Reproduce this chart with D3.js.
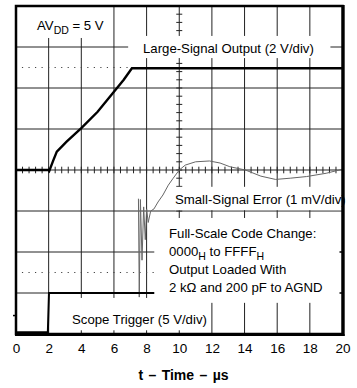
<!DOCTYPE html>
<meta charset="utf-8">
<style>
  body { margin: 0; background: #fff; }
  text { font-family: "Liberation Sans", Arial, sans-serif; fill: #000; }
</style>
<svg width="357" height="388"></svg>
<script src="https://d3js.org/d3.v7.min.js"></script>
<script>
// time axis labels (µs)
var timeTicks = [0, 2, 4, 6, 8, 10, 12, 14, 16, 18, 20];
// traces, [time µs, screen divisions from centre]
var largeSignal = [[0, 0], [2.0, 0], [2.04, -0.02], [2.29, 0.24], [2.5, 0.45], [3.1, 0.69],
  [4.0, 1.02], [5.0, 1.42], [6.0, 1.91], [6.6, 2.2], [7.1, 2.48], [20, 2.48]];
var smallError = [[7.5, -0.7], [7.55, -3.1], [7.62, -0.72], [7.72, -2.2], [7.82, -0.9],
  [7.92, -1.7], [8.0, -0.95], [8.1, -1.28], [8.25, -1.0], [8.45, -0.95], [8.7, -0.78],
  [9.0, -0.61], [9.33, -0.37], [9.63, -0.2], [10.0, 0], [10.37, 0.12], [11.0, 0.2],
  [11.85, 0.22], [12.5, 0.17], [13.1, 0.08], [14.05, 0.0], [15.0, -0.15], [15.9, -0.23],
  [16.8, -0.2], [17.8, -0.16], [19.0, -0.08], [20, 0.02]];
var scopeTrigger = [[0, -3.96], [1.95, -3.96], [2.02, -3.0], [20, -3.0]];
var dotLevels = [2.5, -2.5];

var svg = d3.select("svg");
var x = d3.scaleLinear().domain([0, 20]).range([16, 342.5]);
var y = d3.scaleLinear().domain([-4, 4]).range([334, 6]);

// graticule
var grid = svg.append("g").attr("stroke", "#222").attr("stroke-width", 1);
grid.selectAll(".v").data(d3.range(2, 20, 2).filter(function(d) { return d !== 10; }))
  .enter().append("line")
  .attr("x1", function(d) { return x(d); }).attr("x2", function(d) { return x(d); })
  .attr("y1", y(4)).attr("y2", y(-4));
grid.selectAll(".h").data([-3, -2, -1, 1, 2, 3])
  .enter().append("line")
  .attr("y1", function(d) { return y(d); }).attr("y2", function(d) { return y(d); })
  .attr("x1", x(0)).attr("x2", x(20));
// centre axes with minor ticks
grid.append("line").attr("x1", x(10)).attr("x2", x(10)).attr("y1", y(4)).attr("y2", y(-4));
grid.append("line").attr("x1", x(0)).attr("x2", x(20)).attr("y1", y(0)).attr("y2", y(0));
grid.selectAll(".mx").data(d3.range(0, 20.01, 0.4)).enter().append("line")
  .attr("x1", function(d) { return x(d); }).attr("x2", function(d) { return x(d); })
  .attr("y1", y(0) - 3.3).attr("y2", y(0) + 3.3);
grid.selectAll(".my").data(d3.range(-4, 4.01, 0.2)).enter().append("line")
  .attr("y1", function(d) { return y(d); }).attr("y2", function(d) { return y(d); })
  .attr("x1", x(10) - 3).attr("x2", x(10) + 3);

// dotted reference levels
svg.selectAll(".dot").data(dotLevels).enter().append("line")
  .attr("x1", x(0)).attr("x2", x(20))
  .attr("y1", function(d) { return y(d); }).attr("y2", function(d) { return y(d); })
  .attr("stroke", "#444").attr("stroke-width", 1.2)
  .attr("stroke-dasharray", "1.2," + (x(0.4) - x(0) - 1.2))
  .attr("stroke-dashoffset", 0.6);

var line = d3.line().x(function(d) { return x(d[0]); }).y(function(d) { return y(d[1]); });

svg.append("path").datum(smallError).attr("d", line)
  .attr("fill", "none").attr("stroke", "#666").attr("stroke-width", 1);
svg.append("path").datum(largeSignal).attr("d", line)
  .attr("fill", "none").attr("stroke", "#000").attr("stroke-width", 2.4);
svg.append("path").datum(scopeTrigger).attr("d", line)
  .attr("fill", "none").attr("stroke", "#000").attr("stroke-width", 2);

// white label panels that blank the graticule
var panels = [[0, 5.9, 4, 3.22], [6.87, 19.26, 3.27, 2.73], [9.75, 20, -0.41, -0.98],
  [8.47, 20, -1.17, -3.24], [2.2, 11.78, -3.12, -3.91]];
svg.selectAll(".panel").data(panels).enter().append("rect")
  .attr("x", function(d) { return x(d[0]); })
  .attr("y", function(d) { return y(d[2]); })
  .attr("width", function(d) { return x(d[1]) - x(d[0]); })
  .attr("height", function(d) { return y(d[3]) - y(d[2]); })
  .attr("fill", "#fff");

// frame
svg.append("rect").attr("x", x(0)).attr("y", y(4))
  .attr("width", x(20) - x(0)).attr("height", y(-4) - y(4))
  .attr("fill", "none").attr("stroke", "#000").attr("stroke-width", 2.5);
svg.append("line").attr("x1", x(20) + 1.2).attr("x2", x(20) + 1.2).attr("y1", y(4) - 1).attr("y2", y(-4) + 2)
  .attr("stroke", "#000").attr("stroke-width", 2);
svg.append("line").attr("x1", x(0) - 1).attr("x2", x(20) + 2).attr("y1", y(-4) + 1).attr("y2", y(-4) + 1)
  .attr("stroke", "#000").attr("stroke-width", 2);

// channel markers
svg.append("line").attr("x1", x(0) - 3).attr("x2", x(0)).attr("y1", y(-3.55)).attr("y2", y(-3.55))
  .attr("stroke", "#000").attr("stroke-width", 1.5);
svg.selectAll(".mk").data([-2, -3]).enter().append("line")
  .attr("x1", x(20) - 3).attr("x2", x(20))
  .attr("y1", function(d) { return y(d); }).attr("y2", function(d) { return y(d); })
  .attr("stroke", "#000").attr("stroke-width", 1.5);

// x axis labels
var ax = svg.append("g").attr("transform", "translate(0," + y(-4) + ")")
  .call(d3.axisBottom(x).tickValues(timeTicks).tickSize(0).tickPadding(9.6).tickFormat(d3.format("d")));
ax.select(".domain").remove();
ax.selectAll("text").attr("font-size", "13.5px").attr("font-family", "'Liberation Sans', Arial, sans-serif");

svg.append("text").attr("x", 183.5).attr("y", 380).attr("text-anchor", "middle")
  .attr("font-size", "14px").attr("font-weight", "bold").attr("word-spacing", "1.5px")
  .text("t \u2013 Time \u2013 \u00b5s");

// annotations
var fs = "13.2px";
var t1 = svg.append("text").attr("x", 37).attr("y", 30).attr("font-size", fs);
t1.append("tspan").text("AV");
t1.append("tspan").attr("dy", 3.5).attr("font-size", "10.5px").text("DD");
t1.append("tspan").attr("dy", -3.5).text(" = 5 V");

svg.append("text").attr("x", 143).attr("y", 53).attr("font-size", fs).text("Large-Signal Output (2 V/div)");
svg.append("text").attr("x", 175).attr("y", 203.5).attr("font-size", fs).text("Small-Signal Error (1 mV/div)");
svg.append("text").attr("x", 72).attr("y", 323.5).attr("font-size", fs).text("Scope Trigger (5 V/div)");

svg.append("text").attr("x", 169).attr("y", 238).attr("font-size", fs).text("Full-Scale Code Change:");
var t2 = svg.append("text").attr("x", 169).attr("y", 256).attr("font-size", fs);
t2.append("tspan").text("0000");
t2.append("tspan").attr("dy", 3.5).attr("font-size", "10.5px").text("H");
t2.append("tspan").attr("dy", -3.5).text(" to FFFF");
t2.append("tspan").attr("dy", 3.5).attr("font-size", "10.5px").text("H");
svg.append("text").attr("x", 169).attr("y", 273.5).attr("font-size", fs).text("Output Loaded With");
svg.append("text").attr("x", 169).attr("y", 291.5).attr("font-size", fs).text("2 k\u03a9 and 200 pF to AGND");
</script>
